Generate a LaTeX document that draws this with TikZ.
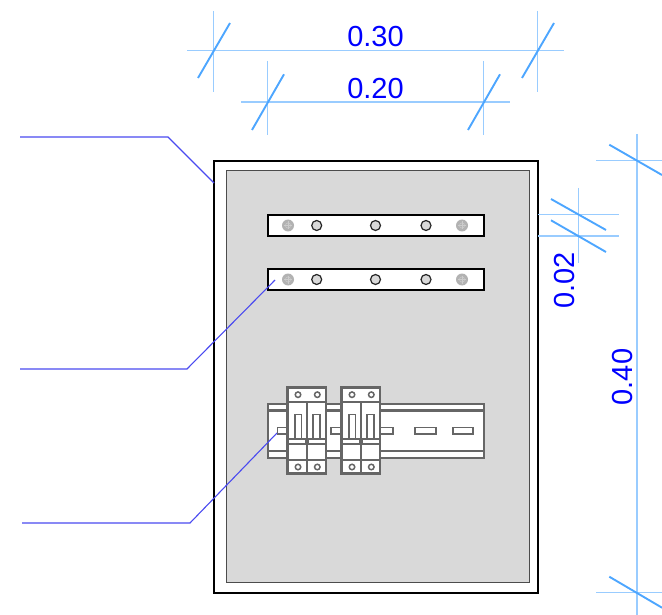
\documentclass[tikz,border=0pt]{standalone}
\usepackage{fontspec}
\setmainfont{Liberation Sans}
\definecolor{dimline}{HTML}{99CCFF}
\definecolor{dimtick}{HTML}{4DA6FF}
\definecolor{leader}{HTML}{4A4AF0}
\definecolor{panel}{HTML}{D9D9D9}
\definecolor{part}{HTML}{666666}
\tikzset{
  ext/.style={draw=dimline,line width=1.5pt},
  dimmain/.style={draw=dimline,line width=1.9pt},
  tick/.style={draw=dimtick,line width=1.9pt},
  leaderline/.style={draw=leader,line width=1.1pt},
  dimtext/.style={text=blue,font=\fontsize{29}{29}\selectfont,inner sep=0pt},
  partline/.style={draw=part,line width=1.7pt,fill=white},
  railbox/.style={draw=part,line width=2.6pt,fill=white},
  breakerbox/.style={draw=part,line width=2.1pt,fill=white},
  barbox/.style={draw=black,line width=2pt,fill=white},
  hole/.style={circle,draw=black!85,line width=1.2pt,fill=panel,minimum size=10pt,inner sep=0pt},
  screw/.style={circle,draw=part,line width=1.5pt,fill=white,minimum size=5.5pt,inner sep=0pt},
}
\newcommand{\graycross}[2]{%
  \fill[black!30] (#1,#2) circle (6);
  \draw[black!20,line width=0.7pt] (#1-4,#2)--(#1+4,#2) (#1,#2-4)--(#1,#2+4);
  \draw[black!20,line width=0.5pt] (#1,#2) circle (2.6);
}
\newcommand{\breaker}[1]{%
  \begin{scope}[shift={(#1,0)}]
    \draw[breakerbox] (0,387.5) rectangle (38.5,473.5);
    \draw[partline,fill=none] (0,402) -- (38.5,402) (0,460) -- (38.5,460);
    \draw[partline,fill=none] (19.5,402) -- (19.5,473.5);
    \draw[partline] (7.2,414.5) rectangle (14,439);
    \draw[partline] (25.5,414.5) rectangle (32.5,439);
    \draw[part,line width=1.3pt] (0,439) -- (38.5,439) (0,444) -- (38.5,444);
    \fill[part] (17.5,439) rectangle (21.5,444);
    \node[screw] (#1a) at (10.5,394.7) {};
    \node[screw] (#1b) at (29.8,394.7) {};
    \node[screw] (#1c) at (10.5,467) {};
    \node[screw] (#1d) at (29.8,467) {};
  \end{scope}
}
\begin{document}
\begin{tikzpicture}[x=1pt,y=-1pt]
\useasboundingbox (0,0) rectangle (662,615);
\clip (0,0) rectangle (662,615);
% enclosure
\draw[black,line width=2pt,fill=white] (214,161) rectangle (538,593);
\draw[black!70,line width=1pt,fill=panel] (226,171) rectangle (529,582);
% bars
\draw[barbox] (268,215) rectangle (484,236);
\draw[barbox] (268,269) rectangle (484,290);
\graycross{288}{225.5}\graycross{462}{225.5}
\graycross{288}{279.5}\graycross{462}{279.5}
\node[hole] (h1) at (316.7,225.5) {};
\node[hole] (h2) at (375.5,225.5) {};
\node[hole] (h3) at (426,225.5) {};
\node[hole] (h4) at (316.7,279.5) {};
\node[hole] (h5) at (375.5,279.5) {};
\node[hole] (h6) at (426,279.5) {};
% rail
\draw[railbox] (268,404) rectangle (484,458);
\draw[partline,fill=none,line width=2.2pt] (268,410.5) -- (484,410.5) (268,451) -- (484,451);
\draw[partline] (277.5,427.5) rectangle (288,434);
\draw[partline] (331,427.5) rectangle (342,434);
\draw[partline] (380,427.5) rectangle (393,434);
\draw[partline] (415,427.5) rectangle (436,434);
\draw[partline] (453,427.5) rectangle (473,434);
% breakers
\breaker{287.5}
\breaker{341.5}
% leaders
\coordinate (l1a) at (20,137); \coordinate (l1b) at (168,137); \coordinate (l1c) at (214,183);
\coordinate (l2a) at (20,369); \coordinate (l2b) at (187,369); \coordinate (l2c) at (275,280);
\coordinate (l3a) at (22,523); \coordinate (l3b) at (190,523); \coordinate (l3c) at (277,433);
\draw[leaderline] (l1a) -- (l1b) -- (l1c);
\draw[leaderline] (l2a) -- (l2b) -- (l2c);
\draw[leaderline] (l3a) -- (l3b) -- (l3c);
% top dimensions
\draw[dimmain] (187,50.5) -- (564,50.5);
\draw[ext] (213.5,11) -- (213.5,92) (537.5,11) -- (537.5,92);
\draw[tick] (198,78) -- (230,23) (522,78) -- (554,23);
\node[dimtext] (d30) at (375.5,37) {0.30};
\draw[dimmain] (241,102) -- (510,102);
\draw[ext] (267.5,61) -- (267.5,135) (483.5,61) -- (483.5,135);
\draw[tick] (252,130) -- (284,74.3) (468,130) -- (500,74.3);
\node[dimtext] (d20) at (375.5,88.5) {0.20};
% right dimensions
\draw[dimmain] (637,134) -- (637,615);
\draw[ext] (596,160.5) -- (662,160.5) (596,592.7) -- (662,592.7);
\draw[tick] (609.3,144.7) -- (662,175) (609.3,576.7) -- (662,607.7);
\node[dimtext,rotate=90] (d40) at (623,377) {0.40};
\draw[ext] (538,214.7) -- (619,214.7) (538,236) -- (619,236);
\draw[ext] (578.3,188) -- (578.3,263);
\draw[tick] (551,199) -- (606,230) (551,220.3) -- (606,252);
\node[dimtext,rotate=90] (d02) at (565,280.5) {0.02};
\end{tikzpicture}
\end{document}
